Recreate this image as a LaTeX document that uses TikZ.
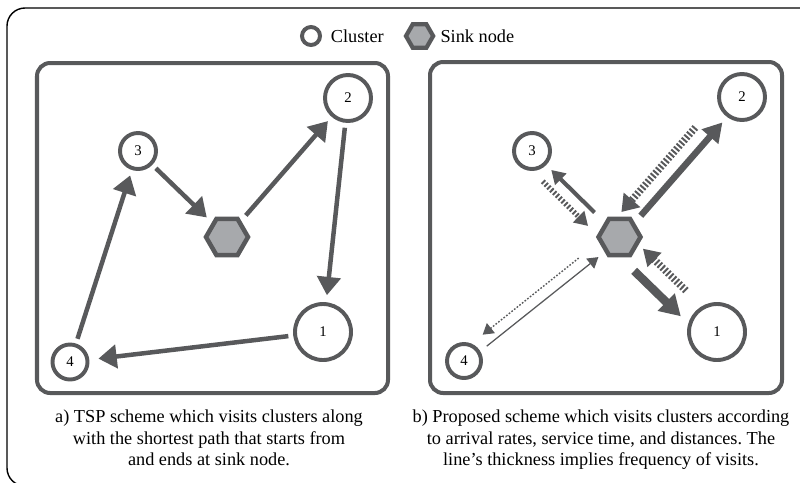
\documentclass[tikz,border=0pt]{standalone}
\usepackage{fontspec}
\setmainfont{Liberation Serif}
\usetikzlibrary{arrows.meta,shapes.geometric,positioning}
\definecolor{rimgray}{HTML}{58595B}
\definecolor{hexgray}{HTML}{A7A9AC}
\frenchspacing

\begin{document}
\begin{tikzpicture}[x=0.025cm,y=-0.025cm,
    cluster/.style={circle,draw=rimgray,line width=2.8pt,fill=white,inner sep=0pt,font=\fontsize{10.5}{12}\selectfont},
    sink/.style={regular polygon,regular polygon sides=6,draw=rimgray,line width=3.2pt,fill=hexgray,minimum size=1.05cm,inner sep=0pt},
    panel/.style={draw=rimgray,line width=2.85pt,rounded corners=0.33cm},
    captext/.style={align=center,font=\fontsize{13}{15.3}\selectfont,anchor=north},
    tsp/.style={draw=rimgray,line width=3.2pt,-{Triangle[length=13pt,width=16.5pt]},shorten <=3.5pt,shorten >=4pt},
    hatch/.style={dash pattern=on 1.4pt off 1.4pt}]
    \useasboundingbox (0,0) rectangle (800,482);
    \clip (0,0) rectangle (800,482);

    %Frame
    \draw[line width=1pt,rounded corners=0.45cm] (7,8) rectangle (830,486);

    %Legend
    \node[cluster,minimum size=0.45cm] (legC) at (311,36) {};
    \node[right=1mm of legC,font=\fontsize{13}{15}\selectfont] (legCtext) {Cluster};
    \node[sink,minimum size=0.68cm,line width=3pt,right=0.37cm of legCtext] (legS) {};
    \node[right=0pt of legS,font=\fontsize{13}{15}\selectfont] (legStext) {Sink node};

    %Panels
    \draw[panel] (37,63) rectangle (388,393);
    \draw[panel] (430,62) rectangle (782,393);

    %TSP scheme
    \node[sink] (sinkA) at (227,237) {};
    \node[cluster,minimum size=1.4cm] (c1A) at (323,332) {1};
    \node[cluster,minimum size=1.15cm] (c2A) at (348,98) {2};
    \node[cluster,minimum size=0.9cm] (c3A) at (138,151) {3};
    \node[cluster,minimum size=0.875cm] (c4A) at (70,362) {4};

    \draw[tsp,shorten >=5pt] (c3A) -- (sinkA);
    \draw[tsp,shorten <=5pt] (sinkA) -- (c2A);
    \draw[tsp,shorten >=5pt] (c2A) -- (c1A);
    \draw[tsp,shorten >=6.5pt] (c1A) -- (c4A);
    \draw[tsp] (c4A) -- (c3A);

    %Proposed scheme
    \node[sink] (sinkB) at (619.5,237) {};
    \node[cluster,minimum size=1.4cm] (c1B) at (717,332) {1};
    \node[cluster,minimum size=1.15cm] (c2B) at (742,97) {2};
    \node[cluster,minimum size=0.9cm] (c3B) at (532,151) {3};
    \node[cluster,minimum size=0.85cm] (c4B) at (464,361) {4};

    \draw[rimgray,line width=4.6pt,-{Triangle[length=13.5pt,width=15pt]},shorten <=0.75cm,shorten >=0.8cm]
      ([shift={(1.5,1.3)}]sinkB.center) -- ([shift={(1.5,1.3)}]c2B.center);
    \draw[rimgray,hatch,line width=5.2pt,-{Triangle[length=11.5pt,width=15pt]},shorten <=1.34cm,shorten >=0.5cm]
      ([shift={(-11.3,-9.9)}]c2B.center) -- ([shift={(-11.3,-9.9)}]sinkB.center);

    \draw[rimgray,line width=2.9pt,-{Triangle[length=9.5pt,width=11pt]},shorten <=0.875cm,shorten >=0.675cm]
      (sinkB.center) -- (c3B.center);
    \draw[rimgray,hatch,line width=3.8pt,-{Triangle[length=9.5pt,width=11pt]},shorten <=0.725cm,shorten >=0.75cm]
      ([shift={(-10,10)}]c3B.center) -- ([shift={(-10,10)}]sinkB.center);

    \draw[rimgray,line width=6pt,-{Triangle[length=14.5pt,width=16.5pt]},shorten <=0.85cm,shorten >=0.925cm]
      ([shift={(-9.7,10.1)}]sinkB.center) -- ([shift={(-9.7,10.1)}]c1B.center);
    \draw[rimgray,hatch,line width=5.2pt,-{Triangle[length=11.5pt,width=13.5pt]},shorten <=1.275cm,shorten >=0.625cm]
      ([shift={(5.5,-5.8)}]c1B.center) -- ([shift={(5.5,-5.8)}]sinkB.center);

    \draw[rimgray,line width=0.9pt,-{Triangle[length=7.5pt,width=9pt]},shorten <=0.675cm,shorten >=0.725cm]
      ([shift={(1.6,2)}]c4B.center) -- ([shift={(1.6,2)}]sinkB.center);
    \draw[rimgray,dash pattern=on 1.2pt off 1.2pt,line width=1pt,-{Triangle[length=7.5pt,width=9pt]},shorten <=1.125cm,shorten >=0.775cm]
      ([shift={(-5.6,-7)}]sinkB.center) -- ([shift={(-5.6,-7)}]c4B.center);

    %Captions
    \node[captext] (capA) at (209,405) {a) TSP scheme which visits clusters along\\with the shortest path that starts from\\and ends at sink node.};
    \node[captext] (capB) at (601,405) {b) Proposed scheme which visits clusters according\\to arrival rates, service time, and distances. The\\line’s thickness implies frequency of visits.};
  \end{tikzpicture}
\end{document}
